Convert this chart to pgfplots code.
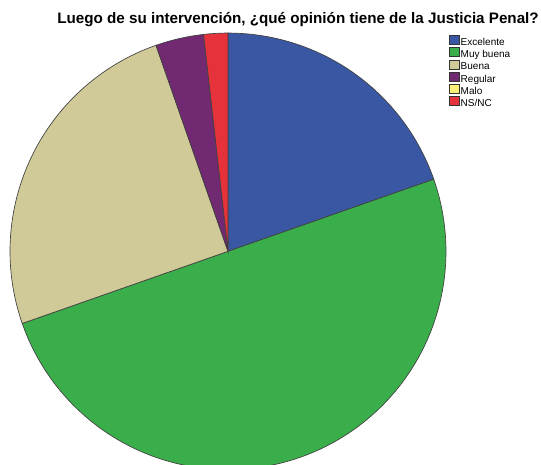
\documentclass[border=0pt]{standalone}
\usepackage{pgfplots}
\pgfplotsset{compat=1.18}
\usepackage{fontspec}
\setmainfont{Liberation Sans}
\definecolor{cExc}{RGB}{58,87,164}
\definecolor{cMuy}{RGB}{58,174,74}
\definecolor{cBue}{RGB}{208,201,152}
\definecolor{cReg}{RGB}{113,41,114}
\definecolor{cMal}{RGB}{250,240,120}
\definecolor{cNS}{RGB}{230,50,58}
\pgfplotsset{mysq/.style={legend image code/.code={\draw[##1,draw=black!80,line width=0.4pt] (0pt,-1.1pt) rectangle (7.4pt,5.6pt);}}}
% counts: Excelente 11, Muy buena 28, Buena 14, Regular 2, Malo 0, NS/NC 1
\pgfmathsetmacro\tot{56}
\pgfmathsetmacro\aA{90}
\pgfmathsetmacro\aB{\aA-11/\tot*360}
\pgfmathsetmacro\aC{\aB-28/\tot*360}
\pgfmathsetmacro\aD{\aC-14/\tot*360}
\pgfmathsetmacro\aE{\aD-2/\tot*360}
\pgfmathsetmacro\aF{\aE-0/\tot*360}
\pgfmathsetmacro\aG{\aF-1/\tot*360}
\begin{document}%
\begin{tikzpicture}
\begin{axis}[scale only axis, width=405.75pt, height=348pt,
  xmin=0, xmax=541, ymin=0, ymax=464, hide axis, clip=true,
  legend cell align=left,
  legend style={at={(axis cs:449,429)}, anchor=north west, draw=none, fill=none,
    font=\fontsize{7.5}{8}\selectfont, inner sep=0pt, row sep=-0.8pt, column sep=0.3pt,
    nodes={inner sep=0.5pt, text height=5.6pt, text depth=1.6pt}},
  pie/.style={draw=black!75, line width=0.5pt, samples=80, variable=\t, mysq}]
\coordinate (ll) at (rel axis cs:0,0);
\coordinate (ur) at (rel axis cs:1,1);
\addplot[pie, fill=cExc, domain=\aB:\aA] ({228+218*cos(t)},{213+218*sin(t)}) -- (axis cs:228,213) -- cycle;
\addlegendentry{Excelente}
\addplot[pie, fill=cMuy, domain=\aC:\aB] ({228+218*cos(t)},{213+218*sin(t)}) -- (axis cs:228,213) -- cycle;
\addlegendentry{Muy buena}
\addplot[pie, fill=cBue, domain=\aD:\aC] ({228+218*cos(t)},{213+218*sin(t)}) -- (axis cs:228,213) -- cycle;
\addlegendentry{Buena}
\addplot[pie, fill=cReg, domain=\aE:\aD] ({228+218*cos(t)},{213+218*sin(t)}) -- (axis cs:228,213) -- cycle;
\addlegendentry{Regular}
\addlegendimage{mysq, fill=cMal}
\addlegendentry{Malo}
\addplot[pie, fill=cNS, domain=\aG:\aF] ({228+218*cos(t)},{213+218*sin(t)}) -- (axis cs:228,213) -- cycle;
\addlegendentry{NS/NC}
\node[font=\fontsize{11.4}{13}\selectfont\bfseries, anchor=base] at (axis cs:298,441) {Luego de su intervención, ¿qué opinión tiene de la Justicia Penal?};
\end{axis}
\pgfresetboundingbox
\path (ll) rectangle (ur);
\end{tikzpicture}%
\end{document}
